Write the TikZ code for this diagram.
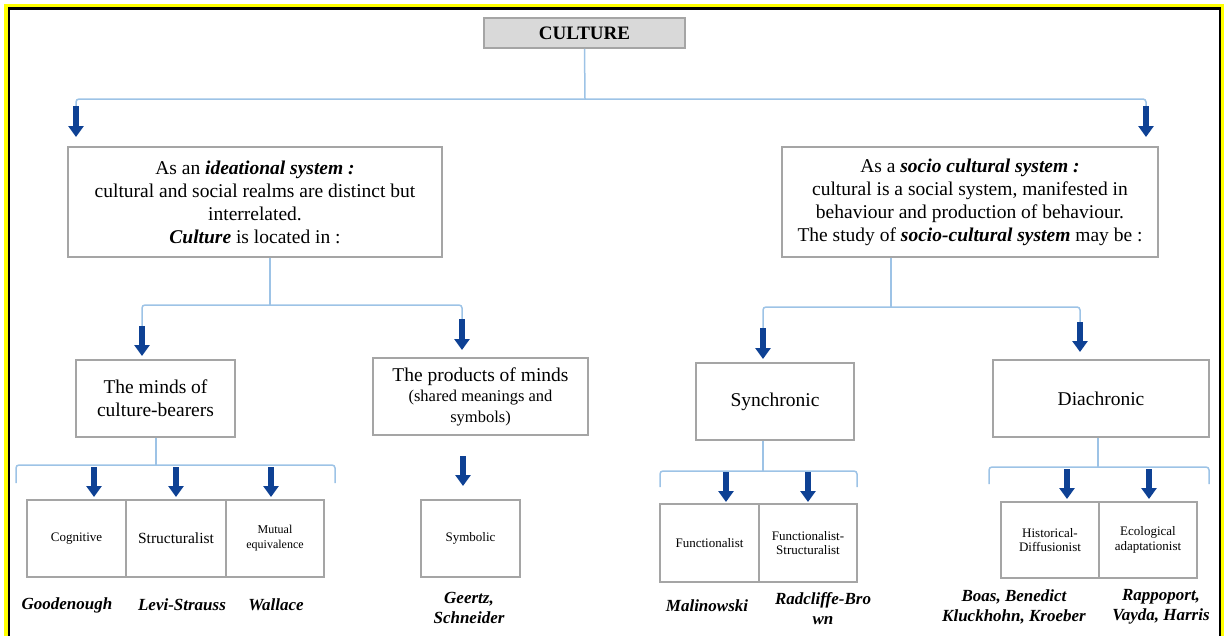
\documentclass[tikz,border=0pt]{standalone}
\usepackage{fontspec}
\setmainfont{Liberation Serif}
\usetikzlibrary{arrows.meta}

\definecolor{linkblue}{RGB}{157,195,230}
\definecolor{arrowblue}{RGB}{14,65,148}
\definecolor{boxgray}{RGB}{165,165,165}
\definecolor{headfill}{RGB}{217,217,217}
\definecolor{framey}{RGB}{255,255,0}

\newcommand\TxtBig{\fontsize{19.5}{23}\selectfont}
\newcommand\TxtMid{\fontsize{16.5}{20.5}\selectfont}
\newcommand\TxtSmall{\fontsize{13}{14.5}\selectfont}
\newcommand\TxtTiny{\fontsize{12}{15}\selectfont}
\newcommand\TxtName{\fontsize{17}{20}\selectfont\bfseries\itshape}

\begin{document}
\begin{tikzpicture}[x=1pt,y=-1pt,
  box/.style={draw=boxgray, line width=1.4pt, fill=white, inner sep=0pt, align=center},
  link/.style={draw=linkblue, line width=1.5pt, rounded corners=3pt},
  blockarrow/.style={draw=arrowblue, line width=6.3pt, -{Triangle[width=15pt,length=11pt]}},
  author/.style={inner sep=0pt, align=center, font=\TxtName}]

\useasboundingbox (0,0) rectangle (1228,635);
\clip (0,0) rectangle (1228,635);

% page frame
\draw[framey, line width=3.2pt] (6,5.8) rectangle (1222.4,700);
\draw[black, line width=2.4pt] (8.8,8.4) rectangle (1220,700);

% root
\node[box, fill=headfill, line width=1.8pt, minimum width=201pt, minimum height=30pt,
      font=\fontsize{19}{22}\selectfont\bfseries] (culture) at (584.5,33) {CULTURE};

% first level
\node[box, minimum width=374pt, minimum height=110pt, font=\TxtBig] (ideational) at (255,202)
  {As an \textbf{\textit{ideational system :}}\\ cultural and social realms are distinct but\\ interrelated.\\ \textbf{\textit{Culture}} is located in :};
\node[box, minimum width=376pt, minimum height=110pt, font=\TxtBig] (sociocult) at (970,202)
  {As a \textbf{\textit{socio cultural system :}}\\ cultural is a social system, manifested in\\ behaviour and production of behaviour.\\ The study of \textbf{\textit{socio-cultural system}} may be :};

% second level
\node[box, minimum width=159pt, minimum height=77pt, font=\TxtBig] (minds) at (155.5,398.5)
  {The minds of\\ culture-bearers};
\node[box, minimum width=215pt, minimum height=77pt, font=\TxtMid] (products) at (480.5,396.5)
  {{\TxtBig The products of minds}\\ (shared meanings and\\ symbols)};
\node[box, minimum width=158pt, minimum height=77pt, font=\TxtBig] (synchronic) at (775,401.5) {Synchronic};
\node[box, minimum width=216pt, minimum height=77pt, font=\TxtBig] (diachronic) at (1101,398.5) {Diachronic};

% third level
\node[box, minimum width=99pt, minimum height=77pt, font=\TxtSmall] (cognitive) at (76.5,538.5) {Cognitive};
\node[box, minimum width=100pt, minimum height=77pt, font=\fontsize{15.5}{18}\selectfont] (structural) at (176,538.5) {Structuralist};
\node[box, minimum width=98pt, minimum height=77pt, font=\TxtTiny] (mutual) at (275,538.5) {Mutual\\ equivalence};
\node[box, minimum width=99pt, minimum height=77pt, font=\TxtSmall] (symbolic) at (470.5,538.5) {Symbolic};
\node[box, minimum width=99pt, minimum height=78pt, font=\TxtSmall] (functionalist) at (709.5,543) {Functionalist};
\node[box, minimum width=98pt, minimum height=78pt, font=\TxtSmall] (funcstruct) at (808,543) {Functionalist-\\ Structuralist};
\node[box, minimum width=98pt, minimum height=76pt, font=\TxtSmall] (historical) at (1050,540) {Historical-\\ Diffusionist};
\node[box, minimum width=98pt, minimum height=76pt, font=\TxtSmall] (ecological) at (1148,540) {Ecological\\ adaptationist};

% authors
\node[author] (goodenough) at (67,605) {Goodenough};
\node[author] (levi) at (182,605) {Levi-Strauss};
\node[author] (wallace) at (276,605) {Wallace};
\node[author] (geertz) at (469,608) {Geertz,\\ Schneider};
\node[author] (malinowski) at (707,606) {Malinowski};
\node[author] (radcliffe) at (823,608.5) {Radcliffe-Bro\\ wn};
\node[author] (boas) at (1014,607) {Boas, Benedict\\ Kluckhohn, Kroeber};
\node[author] (rappoport) at (1161,607) {Rappoport,\\ Vayda, Harris};

% root -> first level
\coordinate (hubTop) at (585,99);
\coordinate (toIdeational) at (76,106);
\coordinate (toSocio) at (1146,106);
\draw[link] (culture.south) -- (hubTop);
\draw[link] (toIdeational) |- (hubTop) -| (toSocio);
\draw[blockarrow] (toIdeational) -- ++(0,31);
\draw[blockarrow] (toSocio) -- ++(0,31);

% ideational -> minds / products
\coordinate (hubIdea) at (270,305);
\coordinate (toMinds) at (142,326);
\coordinate (toProducts) at (462,319);
\draw[link] (ideational.south -| hubIdea) -- (hubIdea);
\draw[link] (toMinds) |- (hubIdea) -| (toProducts);
\draw[blockarrow] (toMinds) -- ++(0,30);
\draw[blockarrow] (toProducts) -- ++(0,31);

% socio-cultural -> synchronic / diachronic
\coordinate (hubSocio) at (891,307);
\coordinate (toSync) at (763,328);
\coordinate (toDia) at (1080,322);
\draw[link] (sociocult.south -| hubSocio) -- (hubSocio);
\draw[link] (toSync) |- (hubSocio) -| (toDia);
\draw[blockarrow] (toSync) -- ++(0,31);
\draw[blockarrow] (toDia) -- ++(0,30);

% minds -> cognitive / structuralist / mutual
\coordinate (hubMinds) at (156,465);
\coordinate (brMindsL) at (16,483);
\coordinate (brMindsR) at (335,483);
\draw[link] (minds.south -| hubMinds) -- (hubMinds);
\draw[link] (brMindsL) |- (hubMinds) -| (brMindsR);
\foreach \ax in {94,176,271} \draw[blockarrow] (\ax,467) -- ++(0,30);

% products -> symbolic
\draw[blockarrow] (463,456) -- ++(0,30);

% synchronic -> functionalist / functionalist-structuralist
\coordinate (hubSync) at (763,471);
\coordinate (brSyncL) at (660,487);
\coordinate (brSyncR) at (857,487);
\draw[link] (synchronic.south -| hubSync) -- (hubSync);
\draw[link] (brSyncL) |- (hubSync) -| (brSyncR);
\foreach \ax in {726,808} \draw[blockarrow] (\ax,472) -- ++(0,30);

% diachronic -> historical / ecological
\coordinate (hubDia) at (1098,467);
\coordinate (brDiaL) at (989,484);
\coordinate (brDiaR) at (1209,484);
\draw[link] (diachronic.south -| hubDia) -- (hubDia);
\draw[link] (brDiaL) |- (hubDia) -| (brDiaR);
\foreach \ax in {1067,1149} \draw[blockarrow] (\ax,469) -- ++(0,30);

\end{tikzpicture}
\end{document}
